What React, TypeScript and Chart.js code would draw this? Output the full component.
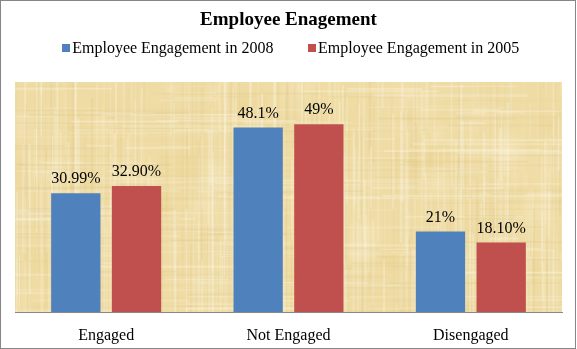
import React, { useEffect, useRef } from "react";
import { Chart, registerables } from "chart.js";

Chart.register(...registerables);

const chartTitle = "Employee Enagement";
const categories = ["Engaged", "Not Engaged", "Disengaged"];
const seriesNames = ["Employee Engagement in 2008", "Employee Engagement in 2005"];
const series2008 = [30.99, 48.1, 21];
const series2005 = [32.9, 49, 18.1];
const labels2008 = ["30.99%", "48.1%", "21%"];
const labels2005 = ["32.90%", "49%", "18.10%"];
const seriesColors = ["#4F81BD", "#C0504D"];
const yMin = 0;
const yMax = 60;

const FONT = '"Liberation Serif", "Times New Roman", serif';

function makePapyrus(w: number, h: number): HTMLCanvasElement {
  const c = document.createElement("canvas");
  c.width = Math.max(1, w);
  c.height = Math.max(1, h);
  const g = c.getContext("2d")!;
  g.fillStyle = "#EFDCA5";
  g.fillRect(0, 0, w, h);
  let s = 20240611;
  const rnd = () => {
    s = (Math.imul(s, 1103515245) + 12345) >>> 0;
    return s / 4294967296;
  };
  // soft warm blotches
  for (let i = 0; i < 70; i++) {
    const x = rnd() * w;
    const y = rnd() * h;
    const r = 10 + rnd() * 30;
    const grad = g.createRadialGradient(x, y, 0, x, y, r);
    const warm = rnd() < 0.5;
    grad.addColorStop(0, warm ? "rgba(232,205,130,0.3)" : "rgba(250,238,205,0.35)");
    grad.addColorStop(1, "rgba(239,220,165,0)");
    g.fillStyle = grad;
    g.fillRect(x - r, y - r, r * 2, r * 2);
  }
  // vertical fibers
  for (let i = 0; i < 520; i++) {
    const x = rnd() * w;
    const wd = 1 + rnd() * 1.5;
    const y0 = rnd() * h - h * 0.2;
    const len = h * (0.15 + rnd() * 0.8);
    const light = rnd() < 0.6;
    g.fillStyle = light
      ? `rgba(252,246,226,${0.1 + rnd() * 0.25})`
      : `rgba(215,188,120,${0.05 + rnd() * 0.12})`;
    g.fillRect(x, y0, wd, len);
  }
  // horizontal fibers
  for (let i = 0; i < 300; i++) {
    const y = rnd() * h;
    const ht = 1 + rnd() * 1.5;
    const x0 = rnd() * w - w * 0.1;
    const len = w * (0.04 + rnd() * 0.3);
    const light = rnd() < 0.6;
    g.fillStyle = light
      ? `rgba(252,246,226,${0.1 + rnd() * 0.25})`
      : `rgba(215,188,120,${0.05 + rnd() * 0.12})`;
    g.fillRect(x0, y, len, ht);
  }
  return c;
}

const decorPlugin = {
  id: "decor",
  beforeDraw(chart: any) {
    const { ctx, chartArea: a, width, height } = chart;
    ctx.save();
    ctx.fillStyle = "#ffffff";
    ctx.fillRect(0, 0, width, height);
    const tex = makePapyrus(Math.round(a.right - a.left), Math.round(a.bottom - a.top));
    ctx.drawImage(tex, Math.round(a.left), Math.round(a.top));
    ctx.strokeStyle = "#868686";
    ctx.lineWidth = 1;
    ctx.strokeRect(0.5, 0.5, width - 2, height - 1);

    // title
    ctx.fillStyle = "#000000";
    ctx.font = `bold 19px ${FONT}`;
    ctx.textAlign = "center";
    ctx.textBaseline = "middle";
    ctx.fillText(chartTitle, width / 2, 20);

    // legend
    ctx.font = `16px ${FONT}`;
    const box = 8;
    const boxGap = 2.5;
    const itemGap = 34;
    const widths = chart.data.datasets.map((d: any) => ctx.measureText(d.label).width);
    const total =
      widths.reduce((acc: number, w: number) => acc + box + boxGap + w, 0) +
      itemGap * (widths.length - 1);
    let x = 290.5 - total / 2;
    const cy = 48;
    ctx.textAlign = "left";
    chart.data.datasets.forEach((d: any, i: number) => {
      ctx.fillStyle = d.backgroundColor;
      ctx.fillRect(Math.round(x), cy - box / 2, box, box);
      ctx.fillStyle = "#000000";
      ctx.fillText(d.label, x + box + boxGap, cy + 1);
      x += box + boxGap + widths[i] + itemGap;
    });
    ctx.restore();
  },
  afterDatasetsDraw(chart: any) {
    const { ctx } = chart;
    const texts = [labels2008, labels2005];
    ctx.save();
    ctx.font = `16px ${FONT}`;
    ctx.fillStyle = "#000000";
    ctx.textAlign = "center";
    ctx.textBaseline = "alphabetic";
    chart.data.datasets.forEach((_d: any, di: number) => {
      const meta = chart.getDatasetMeta(di);
      meta.data.forEach((el: any, i: number) => {
        ctx.fillText(texts[di][i], el.x, el.y - 10);
      });
    });
    ctx.restore();
  },
};

export default function App() {
  const ref = useRef<HTMLCanvasElement | null>(null);
  useEffect(() => {
    if (!ref.current) return;
    const chart = new Chart(ref.current, {
      type: "bar",
      data: {
        labels: categories,
        datasets: [
          {
            label: seriesNames[0],
            data: series2008,
            backgroundColor: seriesColors[0],
            categoryPercentage: 0.666,
            barPercentage: 0.812,
          },
          {
            label: seriesNames[1],
            data: series2005,
            backgroundColor: seriesColors[1],
            categoryPercentage: 0.666,
            barPercentage: 0.812,
          },
        ],
      },
      options: {
        animation: false,
        responsive: false,
        devicePixelRatio: 1,
        layout: { padding: { left: 15, right: 15, top: 82, bottom: 0 } },
        plugins: {
          legend: { display: false },
          title: { display: false },
          tooltip: { enabled: false },
        },
        scales: {
          x: {
            grid: { display: false, drawTicks: false },
            border: { display: true, color: "#878787", width: 1 },
            ticks: { color: "#000000", font: { family: FONT, size: 16 }, padding: 14 },
            afterFit: (s: any) => {
              s.height = 37;
            },
          },
          y: { display: false, min: yMin, max: yMax },
        },
      },
      plugins: [decorPlugin],
    } as any);
    return () => chart.destroy();
  }, []);
  return (
    <div style={{ position: "fixed", left: 0, top: 0, width: 577, height: 349 }}>
      <canvas ref={ref} width={577} height={349} style={{ display: "block" }} />
    </div>
  );
}
